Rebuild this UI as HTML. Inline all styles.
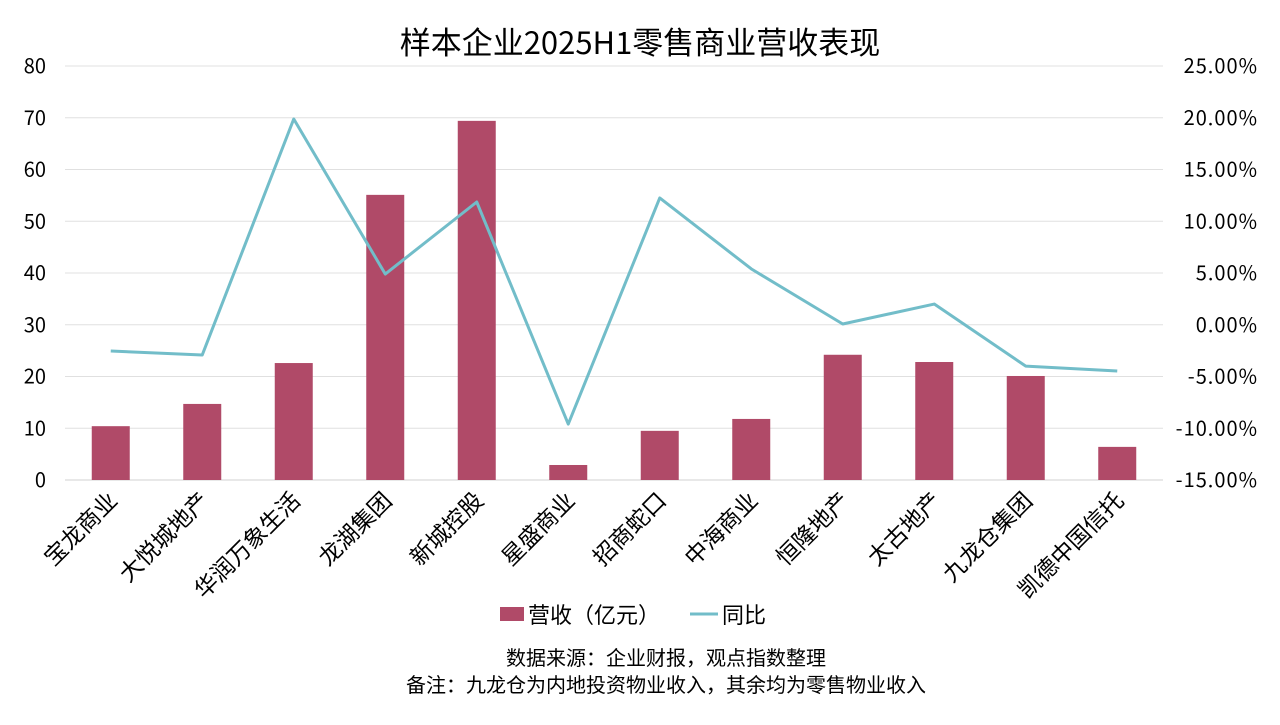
<!DOCTYPE html>
<html><head><meta charset="utf-8">
<style>
html,body{margin:0;padding:0;background:#fff;}
svg text{font-family:"WenQuanYi Zen Hei","Noto Sans CJK SC",sans-serif;fill:#000;}
</style></head>
<body>
<svg id="chart" width="1280" height="720" xmlns="http://www.w3.org/2000/svg">
<text x="640" y="54" text-anchor="middle" font-size="31">样本企业2025H1零售商业营收表现</text>
<g id="grid"></g><g id="bars"></g><g id="line"></g><g id="axes"></g>
<g>
<rect x="500" y="607" width="24" height="14" fill="#b04a68"/>
<text x="528" y="623" font-size="22">营收（亿元）</text>
<line x1="690" y1="614" x2="718" y2="614" stroke="#72bdc9" stroke-width="3"/>
<text x="722" y="623" font-size="22">同比</text>
</g>
<text x="666" y="665" text-anchor="middle" font-size="20">数据来源：企业财报，观点指数整理</text>
<text x="666" y="692" text-anchor="middle" font-size="20">备注：九龙仓为内地投资物业收入，其余均为零售物业收入</text>
</svg>
<script>
const categories=["宝龙商业","大悦城地产","华润万象生活","龙湖集团","新城控股","星盛商业","招商蛇口","中海商业","恒隆地产","太古地产","九龙仓集团","凯德中国信托"];
const revenue=[10.4,14.7,22.6,55.1,69.4,2.9,9.5,11.8,24.2,22.8,20.1,6.4];
const yoy=[-2.54,-2.92,19.88,4.9,11.86,-9.6,12.25,5.4,0.07,2.0,-4.0,-4.47];
const leftTicks=[0,10,20,30,40,50,60,70,80];
const rightTicks=[-15,-10,-5,0,5,10,15,20,25];
const NS="http://www.w3.org/2000/svg";
const X0=65,X1=1163,Y0=480,Y1=66;
const band=(X1-X0)/categories.length;
const xc=i=>X0+band*(i+0.5);
const yL=v=>Y0-(v/80)*(Y0-Y1);
const yR=v=>Y0-((v+15)/40)*(Y0-Y1);
function mk(tag,attrs,parent,text){const e=document.createElementNS(NS,tag);for(const k in attrs)e.setAttribute(k,attrs[k]);if(text!==undefined)e.textContent=text;document.getElementById(parent).appendChild(e);return e;}
leftTicks.forEach(t=>{
 const g=mk('line',{x1:X0,x2:X1,y1:yL(t),y2:yL(t),stroke:t===0?'#d0d0d0':'#e0e0e0','stroke-width':1},'grid');
 
 
 const l=mk('text',{x:46,y:yL(t)+7,'text-anchor':'end','font-size':20},'axes',String(t));
 
 
});
rightTicks.forEach(t=>{
 const l=mk('text',{x:1258,y:yR(t)+7,'text-anchor':'end','font-size':20,'letter-spacing':1},'axes',t.toFixed(2)+'%');
 
 
});
const bw=38;
revenue.forEach((v,i)=>{
 const r=mk('rect',{x:xc(i)-bw/2,y:yL(v),width:bw,height:Y0-yL(v),fill:'#b04a68'},'bars');
 
 
});
const pts=yoy.map((v,i)=>xc(i)+','+yR(v)).join(' ');
const pl=mk('polyline',{points:pts,fill:'none',stroke:'#72bdc9','stroke-width':3,'stroke-linejoin':'round'},'line');


categories.forEach((c,i)=>{
 const x=xc(i)+8,y=Y0+22;
 const t=mk('text',{x:x,y:y,'text-anchor':'end','font-size':23,transform:`rotate(-45 ${x} ${y})`},'axes',c);
 
 
});
</script>
</body></html>
